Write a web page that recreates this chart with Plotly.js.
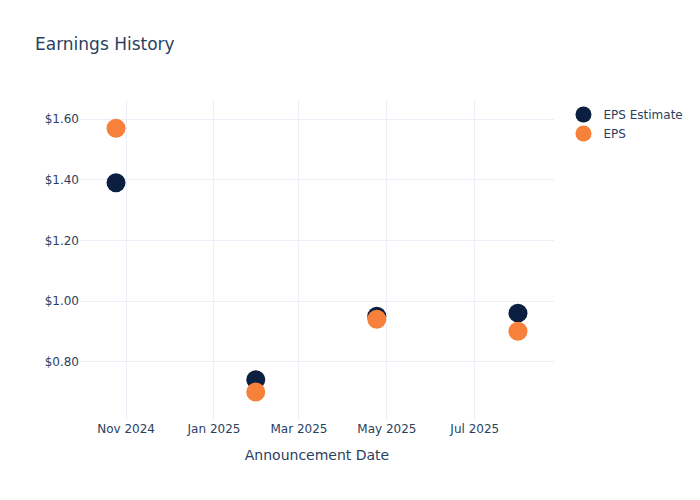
<!DOCTYPE html>
<html>
<head>
<meta charset="utf-8">
<script src="https://cdn.plot.ly/plotly-3.0.1.min.js"></script>
<style>html,body{margin:0;padding:0;background:#fff}</style>
</head>
<body>
<div id="chart" style="width:700px;height:500px"></div>
<script>
const dates = ["2024-10-25", "2025-01-30", "2025-04-24", "2025-07-31"];
const epsEstimate = [1.39, 0.74, 0.95, 0.96];
const epsActual = [1.57, 0.70, 0.94, 0.90];

const traces = [
  {x: dates, y: epsEstimate, name: "EPS Estimate", type: "scatter", mode: "markers",
   marker: {color: "#0b1f40", size: 19}},
  {x: dates, y: epsActual, name: "EPS", type: "scatter", mode: "markers",
   marker: {color: "#f7803a", size: 19}}
];

const layout = {
  width: 700, height: 500,
  font: {family: "DejaVu Sans, sans-serif", color: "#2a3f5f", size: 12},
  title: {text: "Earnings History", x: 0.05, font: {size: 17}},
  margin: {t: 100, b: 80, l: 80, r: 80},
  plot_bgcolor: "#fff", paper_bgcolor: "#fff",
  xaxis: {title: {text: "Announcement Date", font: {size: 14}, standoff: 15}, automargin: true,
    type: "date",
    range: ["2024-09-30", "2025-08-25"], gridcolor: "#ebf0f8", showline: false,
    zeroline: false, dtick: "M2", tick0: "2024-11-01", tickformat: "%b %Y", ticks: ""},
  yaxis: {range: [0.6075, 1.663], tickprefix: "$", tickformat: ".2f", dtick: 0.2,
    gridcolor: "#ebf0f8", zeroline: false, ticks: ""},
  legend: {x: 1.02, y: 1, xanchor: "left", yanchor: "top"},
  showlegend: true
};

Plotly.newPlot("chart", traces, layout, {displayModeBar: false});
</script>
</body>
</html>
